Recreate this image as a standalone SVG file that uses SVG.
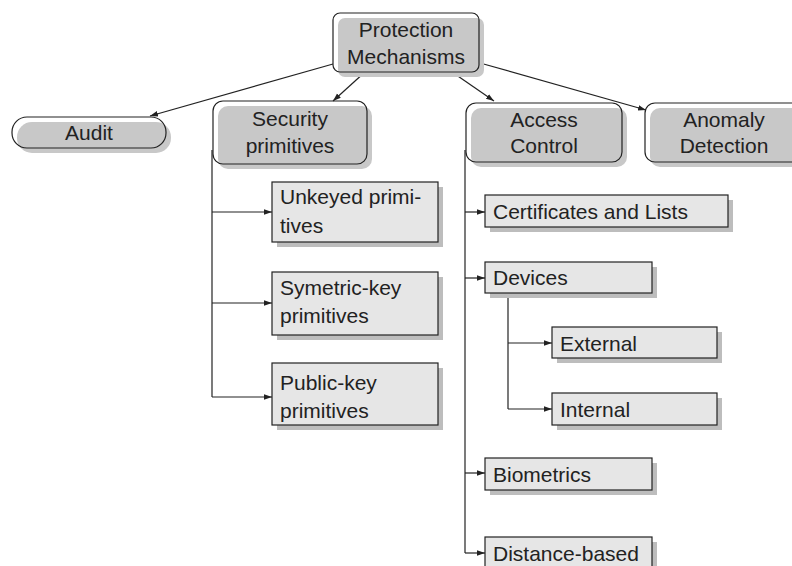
<svg xmlns="http://www.w3.org/2000/svg" width="792" height="566" viewBox="0 0 792 566">
<defs>
<style>
.t{font-family:"Liberation Sans",Arial,sans-serif;font-size:21px;fill:#222}
.c{text-anchor:middle}
.rb{fill:none;stroke:#222;stroke-width:1.2}
.rs{fill:#c8c8c8}
.bx{fill:#e6e6e6;stroke:#222;stroke-width:1.2}
.sh{fill:#bdbdbd}
.ln{fill:none;stroke:#222;stroke-width:1.2}
</style>
<marker id="ah" viewBox="0 0 10 10" refX="10" refY="5" markerWidth="8" markerHeight="8" markerUnits="userSpaceOnUse" orient="auto">
<path d="M0,1.5 L10,5 L0,8.5 Z" fill="#222"/>
</marker>
</defs>
<rect width="792" height="566" fill="#fff"/>
<g id="connectors">
<line class="ln" x1="333" y1="64" x2="150" y2="116" marker-end="url(#ah)"/>
<line class="ln" x1="365" y1="72" x2="333" y2="101" marker-end="url(#ah)"/>
<line class="ln" x1="452" y1="72" x2="494" y2="101" marker-end="url(#ah)"/>
<line class="ln" x1="480" y1="63" x2="646" y2="110" marker-end="url(#ah)"/>
<polyline class="ln" points="212,150 212,397"/>
<line class="ln" x1="212" y1="212" x2="272" y2="212" marker-end="url(#ah)"/>
<line class="ln" x1="212" y1="303" x2="272" y2="303" marker-end="url(#ah)"/>
<line class="ln" x1="212" y1="397" x2="272" y2="397" marker-end="url(#ah)"/>
<polyline class="ln" points="465,150 465,553"/>
<line class="ln" x1="465" y1="212" x2="485" y2="212" marker-end="url(#ah)"/>
<line class="ln" x1="465" y1="278" x2="485" y2="278" marker-end="url(#ah)"/>
<line class="ln" x1="465" y1="473" x2="485" y2="473" marker-end="url(#ah)"/>
<line class="ln" x1="465" y1="553" x2="485" y2="553" marker-end="url(#ah)"/>
<polyline class="ln" points="508,293 508,409"/>
<line class="ln" x1="508" y1="343" x2="552" y2="343" marker-end="url(#ah)"/>
<line class="ln" x1="508" y1="409" x2="552" y2="409" marker-end="url(#ah)"/>
</g>
<g id="protection">
<rect class="rs" x="338" y="18" width="146" height="59" rx="7"/>
<rect class="rb" x="333" y="13" width="146" height="59" rx="7"/>
<text class="t c" x="406" y="37">Protection</text>
<text class="t c" x="406" y="64">Mechanisms</text>
</g>
<g id="audit">
<rect class="rs" x="17" y="122" width="154" height="31" rx="15"/>
<rect class="rb" x="12" y="117" width="154" height="31" rx="15"/>
<text class="t c" x="89" y="140">Audit</text>
</g>
<g id="security">
<rect class="rs" x="218" y="106" width="154" height="63" rx="10"/>
<rect class="rb" x="213" y="101" width="154" height="63" rx="10"/>
<text class="t c" x="290" y="126">Security</text>
<text class="t c" x="290" y="153">primitives</text>
</g>
<g id="access">
<rect class="rs" x="471" y="108" width="156" height="59" rx="10"/>
<rect class="rb" x="466" y="103" width="156" height="59" rx="10"/>
<text class="t c" x="544" y="127">Access</text>
<text class="t c" x="544" y="153">Control</text>
</g>
<g id="anomaly">
<rect class="rs" x="650" y="108" width="158" height="59" rx="10"/>
<rect class="rb" x="645" y="103" width="158" height="59" rx="10"/>
<text class="t c" x="724" y="127">Anomaly</text>
<text class="t c" x="724" y="153">Detection</text>
</g>
<g id="unkeyed">
<rect class="sh" x="277" y="187" width="166" height="60"/>
<rect class="bx" x="272" y="182" width="166" height="60"/>
<text class="t" x="280" y="204">Unkeyed primi-</text>
<text class="t" x="280" y="233">tives</text>
</g>
<g id="symetric">
<rect class="sh" x="277" y="277" width="166" height="63"/>
<rect class="bx" x="272" y="272" width="166" height="63"/>
<text class="t" x="280" y="295">Symetric-key</text>
<text class="t" x="280" y="323">primitives</text>
</g>
<g id="publickey">
<rect class="sh" x="277" y="368" width="166" height="62"/>
<rect class="bx" x="272" y="363" width="166" height="62"/>
<text class="t" x="280" y="390">Public-key</text>
<text class="t" x="280" y="418">primitives</text>
</g>
<g id="certificates">
<rect class="sh" x="490" y="200" width="243" height="32"/>
<rect class="bx" x="485" y="195" width="243" height="32"/>
<text class="t" x="493" y="219">Certificates and Lists</text>
</g>
<g id="devices">
<rect class="sh" x="490" y="267" width="167" height="31"/>
<rect class="bx" x="485" y="262" width="167" height="31"/>
<text class="t" x="493" y="285">Devices</text>
</g>
<g id="external">
<rect class="sh" x="557" y="332" width="165" height="31"/>
<rect class="bx" x="552" y="327" width="165" height="31"/>
<text class="t" x="560" y="351">External</text>
</g>
<g id="internal">
<rect class="sh" x="557" y="398" width="165" height="32"/>
<rect class="bx" x="552" y="393" width="165" height="32"/>
<text class="t" x="560" y="417">Internal</text>
</g>
<g id="biometrics">
<rect class="sh" x="490" y="463" width="167" height="32"/>
<rect class="bx" x="485" y="458" width="167" height="32"/>
<text class="t" x="493" y="482">Biometrics</text>
</g>
<g id="distance">
<rect class="sh" x="490" y="542" width="167" height="32"/>
<rect class="bx" x="485" y="537" width="167" height="32"/>
<text class="t" x="493" y="561">Distance-based</text>
</g>
</svg>
